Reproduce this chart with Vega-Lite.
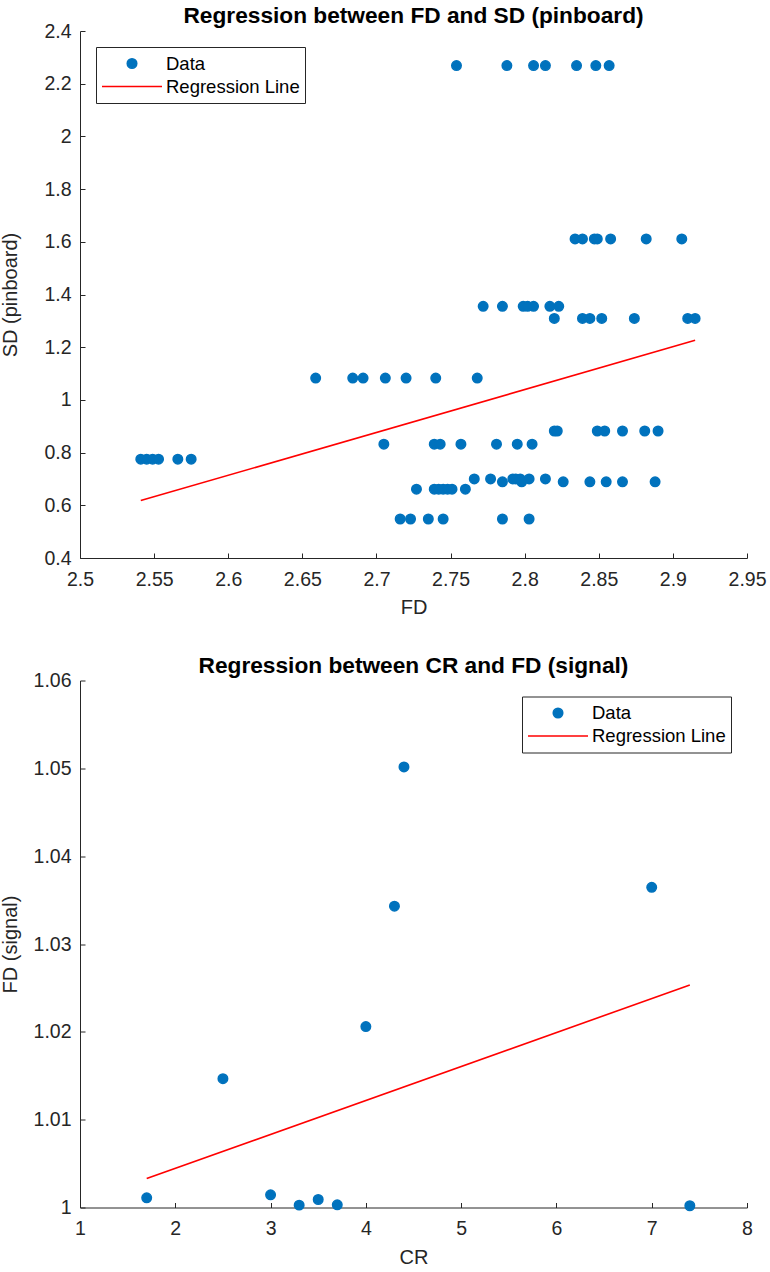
{
  "$schema": "https://vega.github.io/schema/vega-lite/v6.json",
  "padding": {"left": 0, "top": 5, "right": 5, "bottom": 3},
  "background": "white",
  "config": {
    "font": "Liberation Sans",
    "view": {"stroke": null},
    "axis": {
      "grid": false,
      "domainColor": "#262626",
      "tickColor": "#262626",
      "labelColor": "#262626",
      "titleColor": "#262626",
      "labelFont": "Liberation Sans",
      "titleFont": "Liberation Sans",
      "labelFontSize": 19.5,
      "titleFontSize": 20,
      "titleFontWeight": "normal",
      "tickSize": -5,
      "labelFlush": false,
      "labelOverlap": false
    },
    "axisX": {"labelPadding": 17, "titlePadding": 9},
    "axisY": {"labelPadding": 14, "titlePadding": 12, "minExtent": 48, "maxExtent": 48},
    "title": {"fontSize": 22.7, "fontWeight": "bold", "color": "#000000", "frame": "group", "offset": -7, "font": "Liberation Sans"},
    "legend": {
      "title": null,
      "strokeColor": "#262626",
      "fillColor": "#ffffff",
      "padding": 5,
      "rowPadding": 0,
      "clipHeight": 23,
      "symbolSize": 3600,
      "symbolStrokeWidth": 1.6,
      "labelOffset": 3,
      "labelFontSize": 18.5,
      "labelColor": "#000000",
      "labelFont": "Liberation Sans",
      "offset": 16
    }
  },
  "datasets": {
    "pinboard": [
      {"FD": 2.754, "SD": 2.269}, {"FD": 2.788, "SD": 2.269}, {"FD": 2.806, "SD": 2.269}, {"FD": 2.814, "SD": 2.269}, {"FD": 2.835, "SD": 2.269}, {"FD": 2.848, "SD": 2.269}, {"FD": 2.857, "SD": 2.269},
      {"FD": 2.834, "SD": 1.611}, {"FD": 2.839, "SD": 1.611}, {"FD": 2.847, "SD": 1.611}, {"FD": 2.849, "SD": 1.611}, {"FD": 2.858, "SD": 1.611}, {"FD": 2.882, "SD": 1.611}, {"FD": 2.906, "SD": 1.611},
      {"FD": 2.772, "SD": 1.355}, {"FD": 2.785, "SD": 1.355}, {"FD": 2.799, "SD": 1.355}, {"FD": 2.802, "SD": 1.355}, {"FD": 2.806, "SD": 1.355}, {"FD": 2.817, "SD": 1.355}, {"FD": 2.823, "SD": 1.355},
      {"FD": 2.820, "SD": 1.309}, {"FD": 2.839, "SD": 1.309}, {"FD": 2.844, "SD": 1.309}, {"FD": 2.852, "SD": 1.309}, {"FD": 2.874, "SD": 1.309}, {"FD": 2.910, "SD": 1.309}, {"FD": 2.915, "SD": 1.309},
      {"FD": 2.659, "SD": 1.083}, {"FD": 2.684, "SD": 1.083}, {"FD": 2.691, "SD": 1.083}, {"FD": 2.706, "SD": 1.083}, {"FD": 2.720, "SD": 1.083}, {"FD": 2.740, "SD": 1.083}, {"FD": 2.768, "SD": 1.083},
      {"FD": 2.820, "SD": 0.882}, {"FD": 2.822, "SD": 0.882}, {"FD": 2.849, "SD": 0.882}, {"FD": 2.854, "SD": 0.882}, {"FD": 2.866, "SD": 0.882}, {"FD": 2.881, "SD": 0.882}, {"FD": 2.890, "SD": 0.882},
      {"FD": 2.705, "SD": 0.832}, {"FD": 2.739, "SD": 0.832}, {"FD": 2.743, "SD": 0.832}, {"FD": 2.757, "SD": 0.832}, {"FD": 2.781, "SD": 0.832}, {"FD": 2.795, "SD": 0.832}, {"FD": 2.805, "SD": 0.832},
      {"FD": 2.541, "SD": 0.775}, {"FD": 2.545, "SD": 0.775}, {"FD": 2.549, "SD": 0.775}, {"FD": 2.553, "SD": 0.775}, {"FD": 2.566, "SD": 0.775}, {"FD": 2.575, "SD": 0.775},
      {"FD": 2.766, "SD": 0.700}, {"FD": 2.777, "SD": 0.700}, {"FD": 2.792, "SD": 0.700}, {"FD": 2.794, "SD": 0.700}, {"FD": 2.797, "SD": 0.700}, {"FD": 2.803, "SD": 0.700}, {"FD": 2.814, "SD": 0.700},
      {"FD": 2.785, "SD": 0.689}, {"FD": 2.798, "SD": 0.689}, {"FD": 2.826, "SD": 0.689}, {"FD": 2.844, "SD": 0.689}, {"FD": 2.855, "SD": 0.689}, {"FD": 2.866, "SD": 0.689}, {"FD": 2.888, "SD": 0.689},
      {"FD": 2.727, "SD": 0.661}, {"FD": 2.739, "SD": 0.661}, {"FD": 2.742, "SD": 0.661}, {"FD": 2.745, "SD": 0.661}, {"FD": 2.748, "SD": 0.661}, {"FD": 2.751, "SD": 0.661}, {"FD": 2.760, "SD": 0.661},
      {"FD": 2.716, "SD": 0.548}, {"FD": 2.723, "SD": 0.548}, {"FD": 2.735, "SD": 0.548}, {"FD": 2.745, "SD": 0.548}, {"FD": 2.785, "SD": 0.548}, {"FD": 2.803, "SD": 0.548}
    ],
    "pinboardFit": [
      {"FD": 2.541, "SD": 0.618},
      {"FD": 2.915, "SD": 1.226}
    ],
    "signal": [
      {"CR": 1.7, "FD": 1.0011},
      {"CR": 2.5, "FD": 1.01466},
      {"CR": 3.0, "FD": 1.00145},
      {"CR": 3.3, "FD": 1.00027},
      {"CR": 3.5, "FD": 1.00091},
      {"CR": 3.7, "FD": 1.00031},
      {"CR": 4.0, "FD": 1.0206},
      {"CR": 4.3, "FD": 1.0343},
      {"CR": 4.4, "FD": 1.05016},
      {"CR": 7.0, "FD": 1.03645},
      {"CR": 7.4, "FD": 1.0002}
    ],
    "signalFit": [
      {"CR": 1.7, "FD": 1.0033},
      {"CR": 7.4, "FD": 1.02533}
    ]
  },
  "resolve": {
    "scale": {"color": "independent", "shape": "independent", "size": "independent"},
    "legend": {"color": "independent", "shape": "independent", "size": "independent"}
  },
  "spacing": 36.5,
  "vconcat": [
    {
      "width": 667,
      "height": 527,
      "title": {"text": "Regression between FD and SD (pinboard)"},
      "layer": [
        {
          "data": {"name": "pinboardFit"},
          "mark": {"type": "line", "color": "#FF0000", "strokeWidth": 1.6},
          "encoding": {
            "x": {"field": "FD", "type": "quantitative", "scale": {"domain": [2.5, 2.95], "nice": false, "zero": false}},
            "y": {"field": "SD", "type": "quantitative", "scale": {"domain": [0.4, 2.4], "nice": false, "zero": false}}
          }
        },
        {
          "data": {"name": "pinboard"},
          "mark": {"type": "point", "filled": false, "fill": "#0072BD", "strokeWidth": 1.5, "opacity": 1},
          "encoding": {
            "x": {"field": "FD", "type": "quantitative", "title": "FD",
                  "scale": {"domain": [2.5, 2.95], "nice": false, "zero": false},
                  "axis": {"values": [2.5, 2.55, 2.6, 2.65, 2.7, 2.75, 2.8, 2.85, 2.9, 2.95], "format": ".3~g"}},
            "y": {"field": "SD", "type": "quantitative", "title": "SD (pinboard)",
                  "scale": {"domain": [0.4, 2.4], "nice": false, "zero": false},
                  "axis": {"values": [0.4, 0.6, 0.8, 1, 1.2, 1.4, 1.6, 1.8, 2, 2.2, 2.4], "format": ".3~g"}},
            "color": {"datum": "Data", "scale": {"domain": ["Data", "Regression Line"], "range": ["#0072BD", "#FF0000"]},
                      "legend": {"orient": "top-left"}},
            "shape": {"datum": "Data", "scale": {"domain": ["Data", "Regression Line"], "range": ["circle", "stroke"]},
                      "legend": {"orient": "top-left"}},
            "size": {"datum": "Data", "scale": {"domain": ["Data", "Regression Line"], "range": [90, 3600]},
                      "legend": {"orient": "top-left"}}
          }
        }
      ]
    },
    {
      "width": 667,
      "height": 527,
      "title": {"text": "Regression between CR and FD (signal)"},
      "layer": [
        {
          "data": {"name": "signalFit"},
          "mark": {"type": "line", "color": "#FF0000", "strokeWidth": 1.6},
          "encoding": {
            "x": {"field": "CR", "type": "quantitative", "scale": {"domain": [1, 8], "nice": false, "zero": false}},
            "y": {"field": "FD", "type": "quantitative", "scale": {"domain": [1, 1.06], "nice": false, "zero": false}}
          }
        },
        {
          "data": {"name": "signal"},
          "mark": {"type": "point", "filled": false, "fill": "#0072BD", "strokeWidth": 1.5, "opacity": 1},
          "encoding": {
            "x": {"field": "CR", "type": "quantitative", "title": "CR",
                  "scale": {"domain": [1, 8], "nice": false, "zero": false},
                  "axis": {"values": [1, 2, 3, 4, 5, 6, 7, 8], "format": "d"}},
            "y": {"field": "FD", "type": "quantitative", "title": "FD (signal)",
                  "scale": {"domain": [1, 1.06], "nice": false, "zero": false},
                  "axis": {"values": [1, 1.01, 1.02, 1.03, 1.04, 1.05, 1.06], "format": ".3~g"}},
            "color": {"datum": "Data", "scale": {"domain": ["Data", "Regression Line"], "range": ["#0072BD", "#FF0000"]},
                      "legend": {"orient": "top-right"}},
            "shape": {"datum": "Data", "scale": {"domain": ["Data", "Regression Line"], "range": ["circle", "stroke"]},
                      "legend": {"orient": "top-right"}},
            "size": {"datum": "Data", "scale": {"domain": ["Data", "Regression Line"], "range": [90, 3600]},
                      "legend": {"orient": "top-right"}}
          }
        }
      ]
    }
  ]
}
